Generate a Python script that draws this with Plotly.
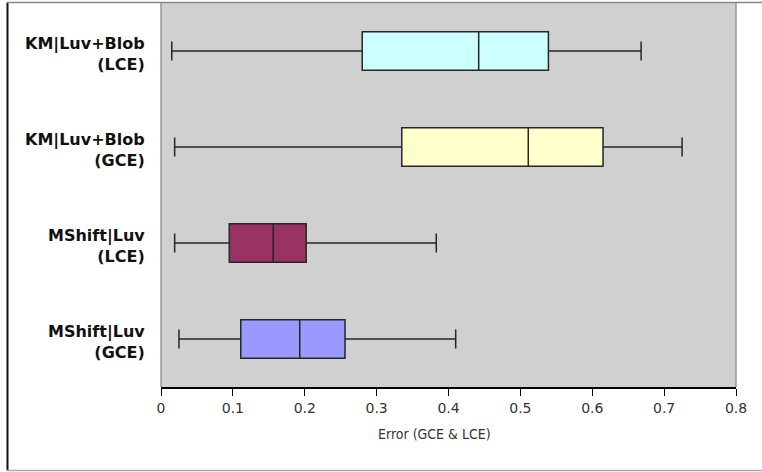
import plotly.graph_objects as go

categories = ["KM|Luv+Blob<br>(LCE)", "KM|Luv+Blob<br>(GCE)", "MShift|Luv<br>(LCE)", "MShift|Luv<br>(GCE)"]
lower = [0.015, 0.019, 0.019, 0.025]
q1 = [0.280, 0.335, 0.095, 0.111]
median = [0.442, 0.511, 0.156, 0.193]
q3 = [0.539, 0.615, 0.202, 0.256]
upper = [0.668, 0.725, 0.383, 0.410]
colors = ["#CCFFFF", "#FFFFCC", "#993366", "#9999FF"]
x_ticks = [0, 0.1, 0.2, 0.3, 0.4, 0.5, 0.6, 0.7, 0.8]
x_tick_text = ["0", "0.1", "0.2", "0.3", "0.4", "0.5", "0.6", "0.7", "0.8"]
x_title = "Error (GCE &amp; LCE)"

W, H = 762, 472
L, R, T, B = 161, 26, 3, 85
PW, PH = W - L - R, H - T - B


def px(x):
    return (x - L) / PW


def py(y):
    return (H - B - y) / PH


fig = go.Figure()
for i, cat in enumerate(categories):
    fig.add_trace(go.Box(
        y=[cat], q1=[q1[i]], median=[median[i]], q3=[q3[i]],
        lowerfence=[lower[i]], upperfence=[upper[i]],
        orientation="h", fillcolor=colors[i],
        line=dict(color="#262626", width=1.5),
        width=0.40, whiskerwidth=0.5, boxpoints=False,
        showlegend=False, hoverinfo="skip",
    ))

fig.update_layout(
    width=W, height=H,
    margin=dict(l=L, r=R, t=T, b=B),
    paper_bgcolor="white", plot_bgcolor="#D0D0D0",
    showlegend=False,
    xaxis=dict(range=[0, 0.8], tickvals=x_ticks, ticktext=x_tick_text,
               showgrid=False, zeroline=False,
               showline=True, linecolor="black", linewidth=2,
               ticks="outside", ticklen=7, tickcolor="black", tickwidth=1,
               tickfont=dict(family="DejaVu Sans", size=14, color="#333333")),
    yaxis=dict(type="category", categoryorder="array", categoryarray=categories,
               range=[3.5, -0.5], showgrid=False, zeroline=False,
               showline=False, ticks="", showticklabels=False),
)

# category labels (bold, right aligned)
for cat in categories:
    fig.add_annotation(text="<b>" + cat.replace("<br>", "</b><br><b>") + "</b>",
                       xref="paper", yref="y", x=px(147), y=cat,
                       xanchor="right", yanchor="middle", align="right",
                       yshift=-3, showarrow=False,
                       font=dict(family="DejaVu Sans", size=16, color="#111111"))

# x-axis title
fig.add_annotation(text=x_title, xref="paper", yref="paper",
                   x=px(434.5), y=py(434), xanchor="center", yanchor="middle",
                   showarrow=False,
                   font=dict(family="DejaVu Sans Condensed", size=14, color="#333333"))

# plot-area border (gray) on left, top, right
fig.add_shape(type="line", xref="paper", yref="paper", x0=0, x1=0, y0=0, y1=1,
              line=dict(color="#999999", width=1.5))
fig.add_shape(type="line", xref="paper", yref="paper", x0=1, x1=1, y0=0, y1=1,
              line=dict(color="#999999", width=1.5))
# outer frame
fig.add_shape(type="line", xref="paper", yref="paper",
              x0=px(7.5), x1=px(7.5), y0=py(470.5), y1=py(2.5),
              line=dict(color="#111111", width=2))
fig.add_shape(type="line", xref="paper", yref="paper",
              x0=px(7), x1=px(762), y0=py(470.5), y1=py(470.5),
              line=dict(color="#AAAAAA", width=1.5))
fig.add_shape(type="line", xref="paper", yref="paper",
              x0=px(7), x1=px(762), y0=py(2.5), y1=py(2.5),
              line=dict(color="#888888", width=1.5))

fig.write_html("out.html")
